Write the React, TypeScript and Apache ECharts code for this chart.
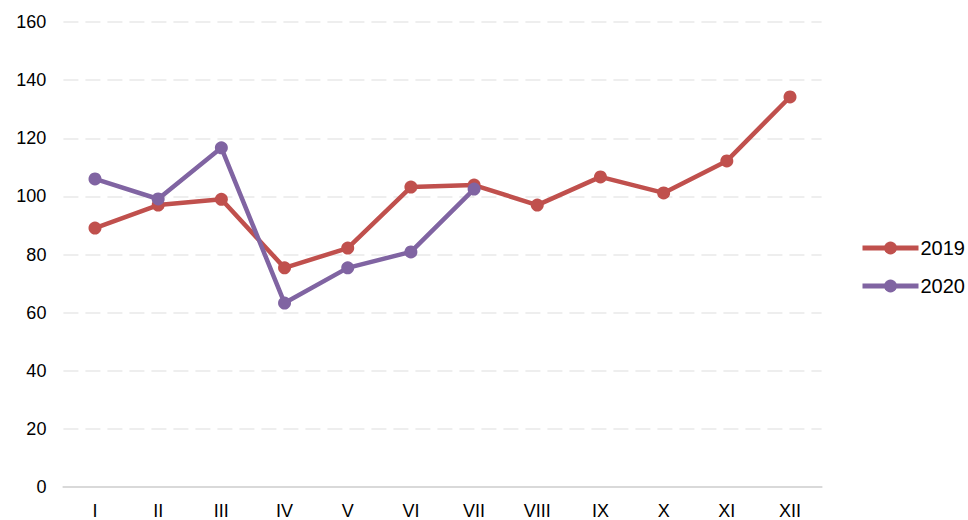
import React, { useEffect, useRef } from "react";
import * as echarts from "echarts";

const categories = ["I", "II", "III", "IV", "V", "VI", "VII", "VIII", "IX", "X", "XI", "XII"];
const series2019 = [89.1, 97, 99, 75.4, 82.2, 103.2, 103.9, 97, 106.7, 101.2, 112.2, 134.2];
const series2020 = [106, 99.1, 116.7, 63.3, 75.4, 80.9, 102.5];
const yTicks = { min: 0, max: 160, interval: 20 };

export default function App() {
  const ref = useRef<HTMLDivElement>(null);
  useEffect(() => {
    const chart = echarts.init(ref.current!, null, { renderer: "svg" });
    const font = "Liberation Sans, Arial, sans-serif";
    chart.setOption({
      animation: false,
      grid: { left: 63.4, right: 146.4, top: 22, bottom: 33, containLabel: false },
      legend: {
        orient: "vertical",
        left: 860,
        top: 238,
        padding: 0,
        itemWidth: 56,
        itemHeight: 16,
        itemGap: 18,
        lineStyle: { width: 5 },
        textStyle: { fontFamily: font, fontSize: 20, color: "#000", padding: [0, 0, 0, -3] },
        data: ["2019", "2020"],
      },
      xAxis: {
        type: "category",
        data: categories,
        boundaryGap: true,
        axisLine: { lineStyle: { color: "#d9d9d9", width: 2 } },
        axisTick: { show: false },
        axisLabel: { fontFamily: font, fontSize: 18, color: "#000", margin: 15 },
      },
      yAxis: {
        type: "value",
        min: yTicks.min,
        max: yTicks.max,
        interval: yTicks.interval,
        axisLine: { show: false },
        axisTick: { show: false },
        axisLabel: { fontFamily: font, fontSize: 18, color: "#000", margin: 17 },
        splitLine: { lineStyle: { color: "#eeeeee", width: 2, type: [15, 7] } },
      },
      series: [
        {
          name: "2019",
          type: "line",
          data: series2019,
          symbol: "circle",
          symbolSize: 13,
          lineStyle: { color: "#C0504D", width: 4.5 },
          itemStyle: { color: "#C0504D" },
        },
        {
          name: "2020",
          type: "line",
          data: series2020,
          symbol: "circle",
          symbolSize: 13,
          lineStyle: { color: "#8064A2", width: 4.5 },
          itemStyle: { color: "#8064A2" },
        },
      ],
    });
    return () => chart.dispose();
  }, []);
  return <div ref={ref} style={{ width: 968, height: 520, position: "absolute", left: 0, top: 0 }} />;
}
